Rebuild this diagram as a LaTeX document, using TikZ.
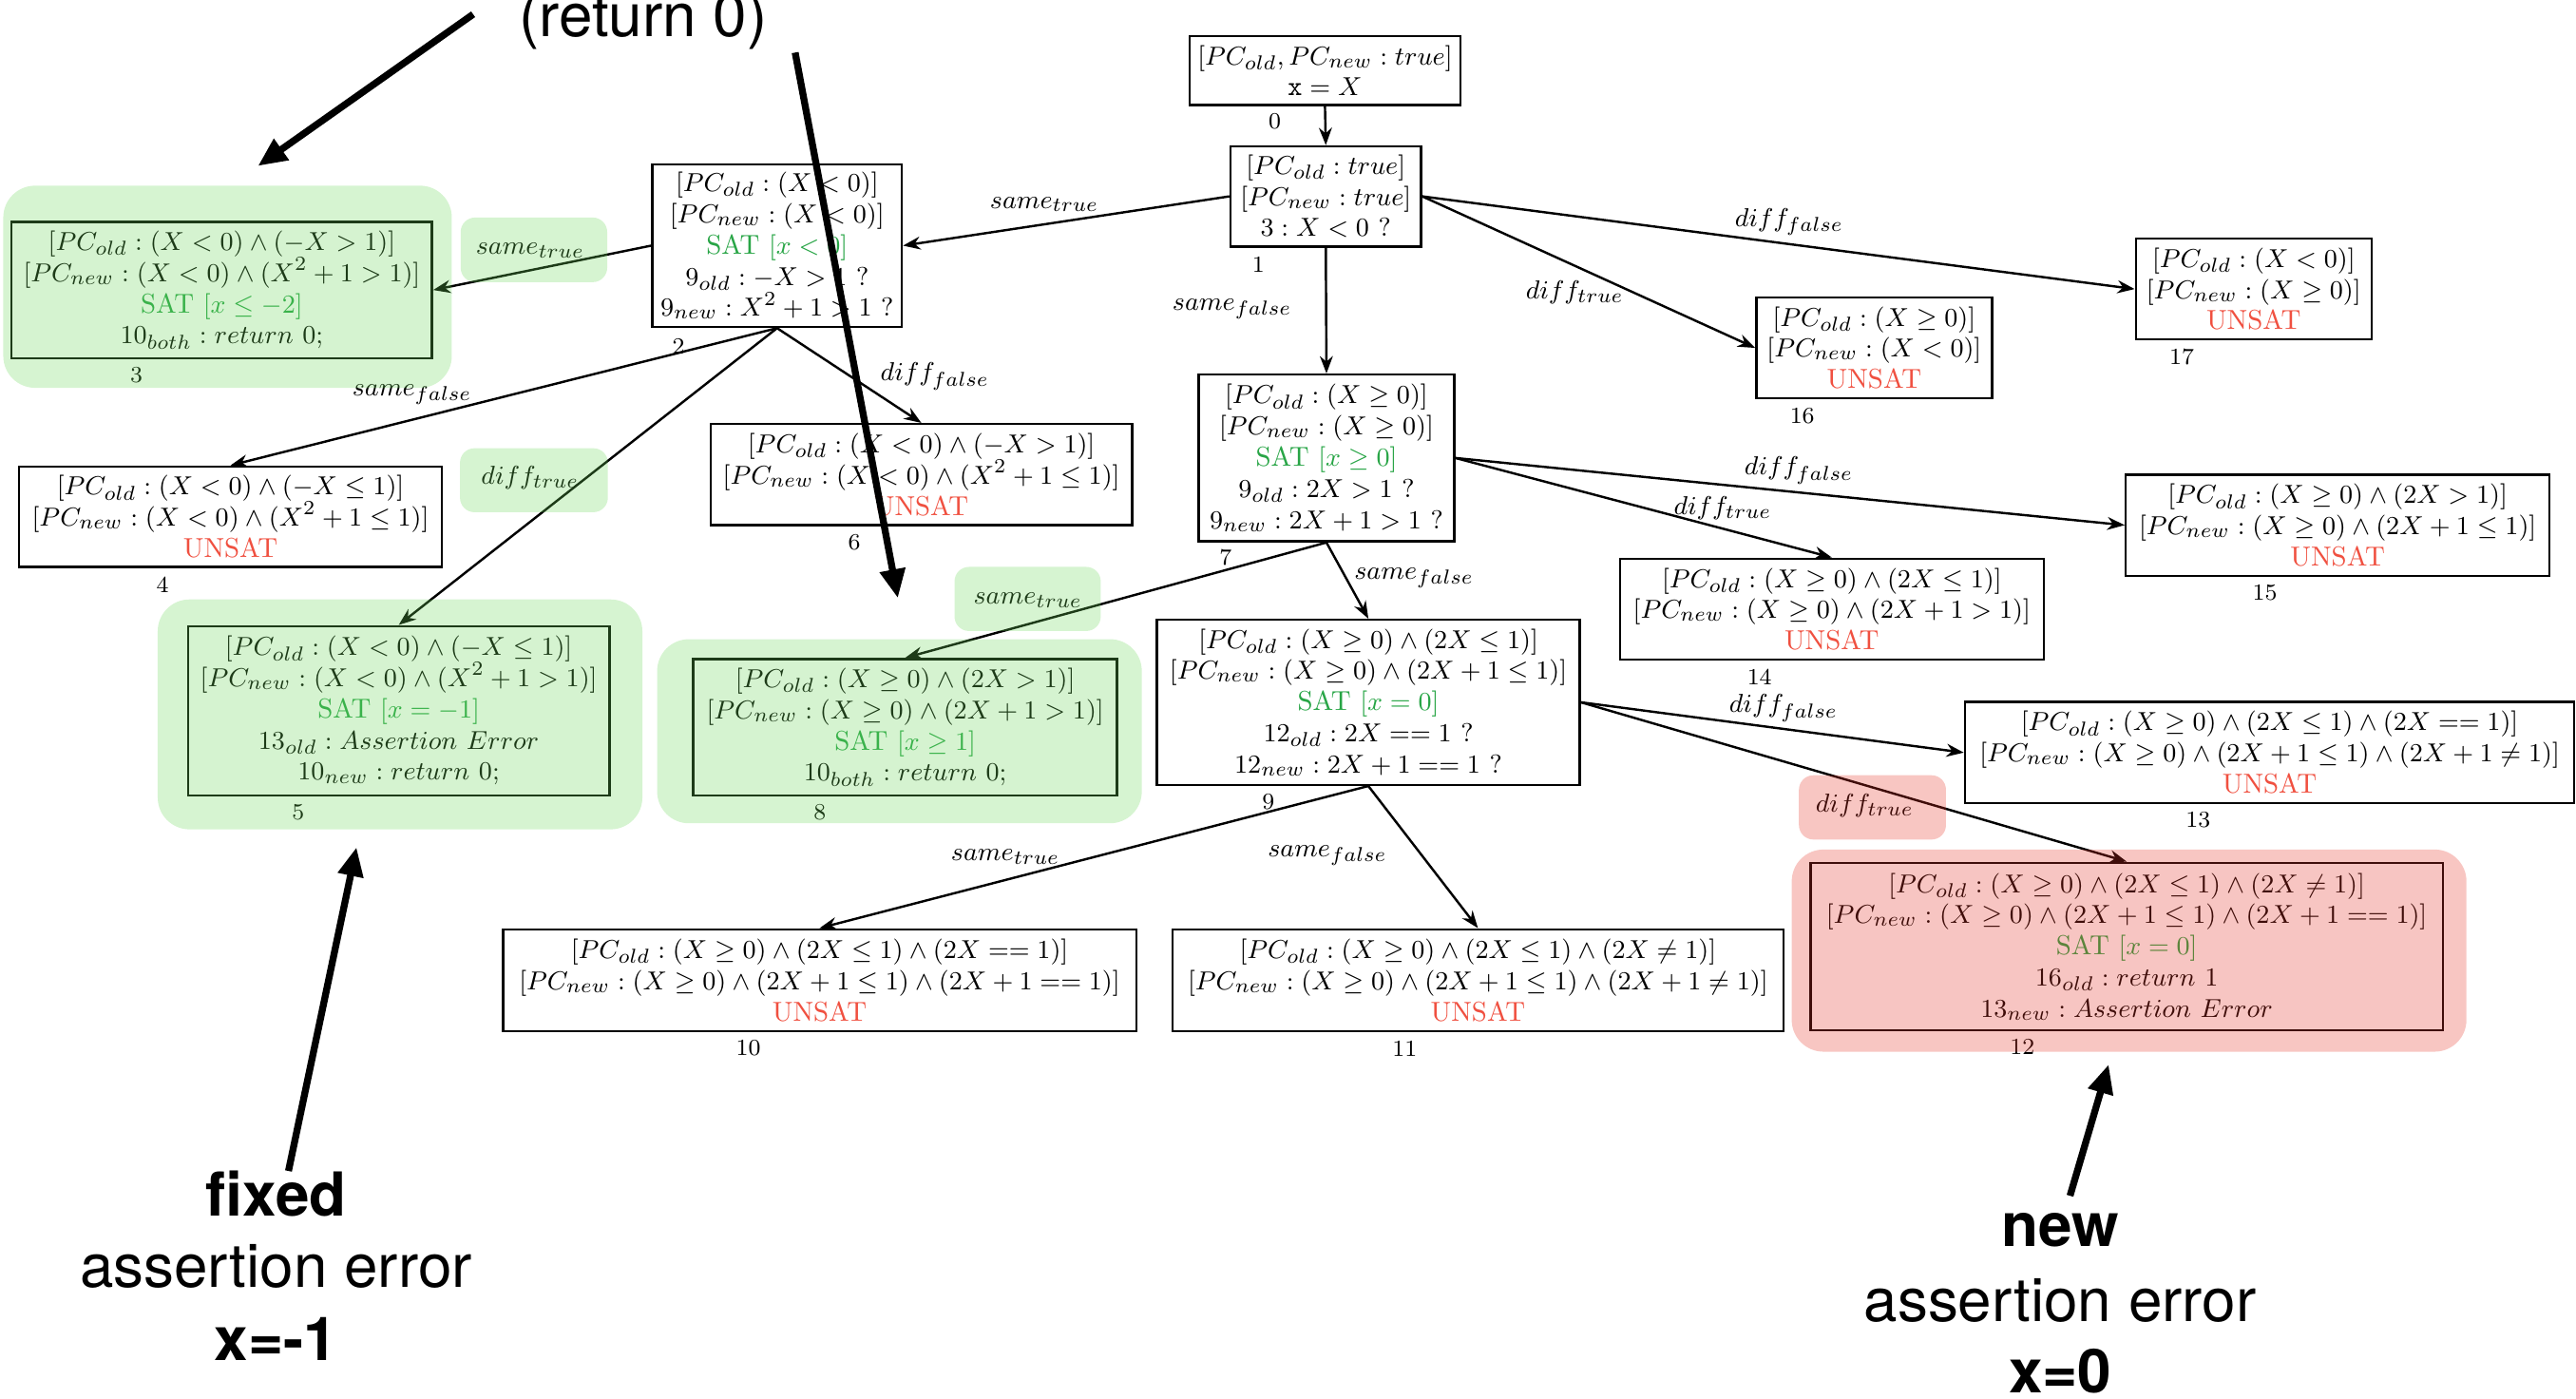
\documentclass[tikz,border=0pt]{standalone}
\usepackage{fontspec}
\newfontfamily\annotfont{TeX Gyre Heros}
\usepackage{amsmath}
\usetikzlibrary{arrows.meta}
\definecolor{satg}{RGB}{40,165,70}
\definecolor{unsatr}{RGB}{240,80,64}
\definecolor{hlg}{RGB}{107,214,89}
\definecolor{hlr}{RGB}{229,50,36}
\newcommand{\SATc}[1]{\textcolor{satg}{SAT $[#1]$}}
\newcommand{\UNSATc}{\textcolor{unsatr}{UNSAT}}
\begin{document}
\begin{tikzpicture}[x=0.02cm,y=-0.02cm,
 box/.style={draw, line width=0.8pt, fill=white, align=center, inner sep=0pt, font=\fontsize{9.5}{10.8}\selectfont},
 num/.style={font=\fontsize{8}{9}\selectfont, inner sep=0pt},
 elab/.style={font=\fontsize{9.5}{12}\selectfont, inner sep=0pt},
 edge/.style={-{Stealth[length=6pt,width=4.5pt]}, line width=0.8pt},
 ann/.style={font=\annotfont\fontsize{21}{25}\selectfont, inner sep=0pt, anchor=base},
 annb/.style={font=\annotfont\bfseries\fontsize{21}{25}\selectfont, inner sep=0pt, anchor=base},
 bigarrow/.style={-{Triangle[length=10pt,width=8.5pt]}, line width=2.4pt},
 ghl/.style={fill=hlg, fill opacity=0.28},
 rhl/.style={fill=hlr, fill opacity=0.28}]
\useasboundingbox (0,0) rectangle (1568,851);

% ---------- nodes ----------
\node[box, minimum width=3.30cm, minimum height=0.84cm] (n0) at (806.5,43)
 {$[PC_{old}, PC_{new} : true]$\\ $\mathtt{x} = X$};
\node[box, minimum width=2.32cm, minimum height=1.22cm] (n1) at (807,119.5)
 {$[PC_{old} : true]$\\ $[PC_{new} : true]$\\ $3 : X < 0\ ?$};
\node[box, minimum width=3.04cm, minimum height=1.98cm] (n2) at (473,149.5)
 {$[PC_{old} : (X<0)]$\\ $[PC_{new} : (X<0)]$\\ \SATc{x<0}\\ $9_{old} : -X > 1\ ?$\\ $9_{new} : X^2+1 > 1\ ?$};
\node[box, minimum width=5.12cm, minimum height=1.66cm] (n3) at (135,176.5)
 {$[PC_{old} : (X<0) \wedge (-X>1)]$\\ $[PC_{new} : (X<0) \wedge (X^2+1>1)]$\\ \SATc{x \leq -2}\\ $10_{both} : return\ 0;$};
\node[box, minimum width=5.15cm, minimum height=1.22cm] (n4) at (140.3,314.4)
 {$[PC_{old} : (X<0)\wedge(-X\leq 1)]$\\ $[PC_{new} : (X<0)\wedge(X^2+1\leq 1)]$\\ \UNSATc};
\node[box, minimum width=5.13cm, minimum height=2.06cm] (n5) at (242.7,432.5)
 {$[PC_{old} : (X<0)\wedge(-X\leq 1)]$\\ $[PC_{new} : (X<0)\wedge(X^2+1>1)]$\\ \SATc{x=-1}\\ $13_{old} : Assertion\ Error$\\ $10_{new} : return\ 0;$};
\node[box, minimum width=5.13cm, minimum height=1.23cm] (n6) at (560.8,288.8)
 {$[PC_{old} : (X<0)\wedge(-X>1)]$\\ $[PC_{new} : (X<0)\wedge(X^2+1\leq 1)]$\\ \UNSATc};
\node[box, minimum width=3.11cm, minimum height=2.03cm] (n7) at (807.4,278.7)
 {$[PC_{old} : (X\geq 0)]$\\ $[PC_{new} : (X\geq 0)]$\\ \SATc{x\geq 0}\\ $9_{old} : 2X > 1\ ?$\\ $9_{new} : 2X+1 > 1\ ?$};
\node[box, minimum width=5.16cm, minimum height=1.66cm] (n8) at (551,442.5)
 {$[PC_{old} : (X\geq 0)\wedge(2X>1)]$\\ $[PC_{new} : (X\geq 0)\wedge(2X+1>1)]$\\ \SATc{x\geq 1}\\ $10_{both} : return\ 0;$};
\node[box, minimum width=5.15cm, minimum height=2.01cm] (n9) at (832.9,427.4)
 {$[PC_{old} : (X\geq 0)\wedge(2X\leq 1)]$\\ $[PC_{new} : (X\geq 0)\wedge(2X+1\leq 1)]$\\ \SATc{x=0}\\ $12_{old} : 2X == 1\ ?$\\ $12_{new} : 2X+1 == 1\ ?$};
\node[box, minimum width=7.71cm, minimum height=1.24cm] (n10) at (498.9,596.5)
 {$[PC_{old} : (X\geq 0)\wedge(2X\leq 1)\wedge(2X==1)]$\\ $[PC_{new} : (X\geq 0)\wedge(2X+1\leq 1)\wedge(2X+1==1)]$\\ \UNSATc};
\node[box, minimum width=7.44cm, minimum height=1.24cm] (n11) at (899.6,596.5)
 {$[PC_{old} : (X\geq 0)\wedge(2X\leq 1)\wedge(2X\neq 1)]$\\ $[PC_{new} : (X\geq 0)\wedge(2X+1\leq 1)\wedge(2X+1\neq 1)]$\\ \UNSATc};
\node[box, minimum width=7.70cm, minimum height=2.04cm] (n12) at (1294.5,576)
 {$[PC_{old} : (X\geq 0)\wedge(2X\leq 1)\wedge(2X\neq 1)]$\\ $[PC_{new} : (X\geq 0)\wedge(2X+1\leq 1)\wedge(2X+1==1)]$\\ \SATc{x=0}\\ $16_{old} : return\ 1$\\ $13_{new} : Assertion\ Error$};
\node[box, minimum width=7.42cm, minimum height=1.23cm] (n13) at (1381.5,458)
 {$[PC_{old} : (X\geq 0)\wedge(2X\leq 1)\wedge(2X==1)]$\\ $[PC_{new} : (X\geq 0)\wedge(2X+1\leq 1)\wedge(2X+1\neq 1)]$\\ \UNSATc};
\node[box, minimum width=5.16cm, minimum height=1.23cm] (n14) at (1115,370.7)
 {$[PC_{old} : (X\geq 0)\wedge(2X\leq 1)]$\\ $[PC_{new} : (X\geq 0)\wedge(2X+1>1)]$\\ \UNSATc};
\node[box, minimum width=5.16cm, minimum height=1.23cm] (n15) at (1422.9,319.6)
 {$[PC_{old} : (X\geq 0)\wedge(2X>1)]$\\ $[PC_{new} : (X\geq 0)\wedge(2X+1\leq 1)]$\\ \UNSATc};
\node[box, minimum width=2.87cm, minimum height=1.23cm] (n16) at (1140.8,211.7)
 {$[PC_{old} : (X\geq 0)]$\\ $[PC_{new} : (X<0)]$\\ \UNSATc};
\node[box, minimum width=2.87cm, minimum height=1.23cm] (n17) at (1371.8,175.9)
 {$[PC_{old} : (X<0)]$\\ $[PC_{new} : (X\geq 0)]$\\ \UNSATc};

% ---------- node numbers ----------
\node[num] (d0) at (776,74) {0};
\node[num] (d1) at (766,161) {1};
\node[num] (d2) at (413,211) {2};
\node[num] (d3) at (83,228) {3};
\node[num] (d4) at (99,356) {4};
\node[num] (d5) at (181.5,494.5) {5};
\node[num] (d6) at (520,330) {6};
\node[num] (d7) at (746,339) {7};
\node[num] (d8) at (499,494.5) {8};
\node[num] (d9) at (772,488) {9};
\node[num] (d10) at (455.5,638) {10};
\node[num] (d11) at (855,638) {11};
\node[num] (d12) at (1231,637) {12};
\node[num] (d13) at (1338,499) {13};
\node[num] (d14) at (1071,412) {14};
\node[num] (d15) at (1378.6,361) {15};
\node[num] (d16) at (1097,253) {16};
\node[num] (d17) at (1328,217) {17};

% ---------- edges ----------
\draw[edge] (n0.south) -- (n1.north);
\draw[edge] (n1.west) -- (n2.east);
\draw[edge] (n1.south) -- (n7.north);
\draw[edge] (n1.east) -- (n16.west);
\draw[edge] (n1.east) -- (n17.west);
\draw[edge] (n2.west) -- (n3.east);
\draw[edge] (n2.south) -- (n4.north);
\draw[edge] (n2.south) -- (n5.north);
\draw[edge] (n2.south) -- (n6.north);
\draw[edge] (n7.south) -- (n8.north);
\draw[edge] (n7.south) -- (n9.north);
\draw[edge] (n7.east) -- (n14.north);
\draw[edge] (n7.east) -- (n15.west);
\draw[edge] (n9.south) -- (n10.north);
\draw[edge] (n9.south) -- (n11.north);
\draw[edge] (n9.east) -- (n13.west);
\draw[edge] (n9.east) -- (n12.north);

% ---------- edge labels ----------
\node[elab] (l12) at (635.7,124.4) {$same_{true}$};
\node[elab] (l17) at (750,188) {$same_{false}$};
\node[elab] (l116) at (958.5,178) {$diff_{true}$};
\node[elab] (l117) at (1089,135) {$diff_{false}$};
\node[elab] (l23) at (322.7,152.3) {$same_{true}$};
\node[elab] (l24) at (250.8,240) {$same_{false}$};
\node[elab] (l25) at (322.7,291) {$diff_{true}$};
\node[elab] (l26) at (569,229) {$diff_{false}$};
\node[elab] (l78) at (625.7,365.3) {$same_{true}$};
\node[elab] (l79) at (860.7,351.8) {$same_{false}$};
\node[elab] (l714) at (1048.6,309.4) {$diff_{true}$};
\node[elab] (l715) at (1094.9,286.3) {$diff_{false}$};
\node[elab] (l910) at (612,521.5) {$same_{true}$};
\node[elab] (l911) at (808,520.5) {$same_{false}$};
\node[elab] (l913) at (1085.6,430.9) {$diff_{false}$};
\node[elab] (l912) at (1135,490.5) {$diff_{true}$};

% ---------- highlights (overlay) ----------
\fill[ghl, rounded corners=11pt] (2,113) rectangle (275,236);
\fill[ghl, rounded corners=11pt] (96,364.8) rectangle (391,504.7);
\fill[ghl, rounded corners=11pt] (400,389) rectangle (695,501);
\fill[rhl, rounded corners=11pt] (1090.6,517) rectangle (1501.3,640);
\fill[ghl, rounded corners=5pt] (280.4,132.4) rectangle (369.6,171.7);
\fill[ghl, rounded corners=5pt] (280,272.8) rectangle (370,311.7);
\fill[ghl, rounded corners=5pt] (581,345) rectangle (670,384);
\fill[rhl, rounded corners=5pt] (1095,471.8) rectangle (1184.5,510.9);

% ---------- annotations ----------
\node[ann] (ret) at (391.5,22) {(return 0)};
\coordinate (a1s) at (288,8.7);
\coordinate (a1e) at (157,101);
\coordinate (a2s) at (484,32);
\coordinate (a2e) at (546.5,364);
\draw[bigarrow] (a1s) -- (a1e);
\draw[bigarrow] (a2s) -- (a2e);

\node[annb] (fx1) at (168,740) {fixed};
\node[ann] (fx2) at (168,783.7) {assertion error};
\node[annb] (fx3) at (168,828) {x=-1};
\coordinate (a3s) at (175.6,712.6);
\coordinate (a3e) at (217,515.6);
\draw[bigarrow] (a3s) -- (a3e);

\node[annb] (nw1) at (1254,758.6) {new};
\node[ann] (nw2) at (1254,804) {assertion error};
\node[annb] (nw3) at (1254,847.4) {x=0};
\coordinate (a4s) at (1260,727.7);
\coordinate (a4e) at (1283.5,647.8);
\draw[bigarrow] (a4s) -- (a4e);
\end{tikzpicture}
\end{document}
